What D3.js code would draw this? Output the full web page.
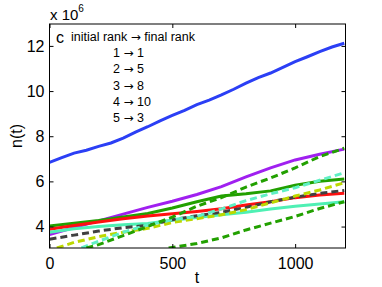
<!DOCTYPE html>
<html><head><meta charset="utf-8">
<script src="https://cdn.jsdelivr.net/npm/d3@7"></script>
<style>
body{margin:0;background:#fff;}
text{font-family:"Liberation Sans",Arial,sans-serif;fill:#000;}
.arr{font-family:"DejaVu Sans",sans-serif;}
</style></head>
<body><svg id="c" width="382" height="287"></svg>
<script>
// data (n in units of 1e6)
const xTicks = [0, 500, 1000];
const yTicks = [4, 6, 8, 10, 12];
const legendHeader = ["initial rank", "final rank"];
const legendFrom = ["1", "2", "3", "4", "5"];
const legendTo = ["1", "5", "8", "10", "3"];

const blue = [[0,6.84],[50,7.05],[100,7.25],[150,7.38],[200,7.55],[250,7.7],[300,7.92],[350,8.18],[400,8.42],[450,8.68],[500,8.92],[550,9.15],[600,9.4],[650,9.6],[700,9.83],[750,10.08],[800,10.35],[850,10.6],[900,10.8],[950,11.05],[1000,11.3],[1050,11.52],[1100,11.75],[1150,11.95],[1200,12.12]];
const purple = [[0,3.65],[100,3.95],[200,4.25],[300,4.55],[400,4.85],[500,5.12],[600,5.42],[700,5.77],[800,6.2],[900,6.6],[1000,6.95],[1100,7.2],[1200,7.43]];
const green = [[0,4.02],[100,4.15],[200,4.27],[300,4.42],[400,4.58],[500,4.82],[600,5.1],[700,5.35],[800,5.45],[900,5.58],[1000,5.83],[1100,6.01],[1200,6.11]];
const red = [[0,3.88],[100,4.05],[200,4.2],[300,4.35],[400,4.47],[500,4.57],[600,4.67],[700,4.79],[800,4.95],[900,5.1],[1000,5.28],[1100,5.4],[1200,5.47]];
const aqua = [[0,3.75],[100,3.9],[200,4.0],[300,4.08],[400,4.14],[500,4.28],[600,4.4],[700,4.52],[800,4.63],[900,4.78],[1000,4.9],[1100,5.0],[1200,5.1]];
const grayDash = [[0,3.44],[100,3.62],[200,3.8],[300,3.95],[400,4.05],[500,4.3],[600,4.48],[700,4.63],[800,4.85],[900,5.1],[1000,5.3],[1100,5.47],[1200,5.6]];
const yellowDash = [[30,3.05],[100,3.3],[200,3.55],[300,3.75],[400,3.92],[500,4.18],[600,4.35],[700,4.52],[800,4.75],[900,5.05],[1000,5.35],[1100,5.62],[1200,5.94]];
const aquaDash = [[130,3.05],[200,3.35],[300,3.75],[400,4.07],[500,4.3],[600,4.45],[700,4.78],[800,5.15],[900,5.45],[1000,5.72],[1100,6.05],[1200,6.38]];
const greenDashUp = [[150,3.05],[200,3.2],[300,3.6],[400,4.0],[500,4.42],[600,4.9],[700,5.28],[800,5.75],[900,6.15],[1000,6.6],[1100,7.1],[1200,7.47]];
const greenDashLow = [[485,3.05],[600,3.25],[700,3.5],[800,3.85],[900,4.15],[1000,4.45],[1100,4.8],[1200,5.1]];

const svg = d3.select("#c");
const L = 49.5, R = 345.5, T = 24, B = 248;
const x = d3.scaleLinear().domain([0, 1205]).range([L, R]);
const y = d3.scaleLinear().domain([3.05, 12.97]).range([B, T]);

svg.append("defs").append("clipPath").attr("id","clip").append("rect")
  .attr("x", L).attr("y", T).attr("width", R-L).attr("height", B-T);

const line = d3.line().x(d => x(d[0])).y(d => y(d[1]));
const g = svg.append("g").attr("clip-path","url(#clip)");
const series = [
  {d: blue, c: "#2b3ff5", dash: null},
  {d: purple, c: "#a020f0", dash: null},
  {d: green, c: "#22a000", dash: null},
  {d: red, c: "#ff1010", dash: null},
  {d: aqua, c: "#4ff0b4", dash: null},
  {d: grayDash, c: "#404040", dash: "7,4"},
  {d: yellowDash, c: "#bcd800", dash: "7,4"},
  {d: aquaDash, c: "#60f0c4", dash: "7,4"},
  {d: greenDashUp, c: "#22a000", dash: "7,4"},
  {d: greenDashLow, c: "#22a000", dash: "7,4"}
];
series.forEach(s => {
  g.append("path").attr("d", line(s.d)).attr("fill","none")
    .attr("stroke", s.c).attr("stroke-width", 3)
    .attr("stroke-dasharray", s.dash);
});

svg.append("rect").attr("x", L).attr("y", T).attr("width", R-L).attr("height", B-T)
  .attr("fill","none").attr("stroke","#000").attr("stroke-width",1);

const fs = "16px";
svg.append("g").attr("transform", `translate(0,${B})`)
  .call(d3.axisBottom(x).tickValues(xTicks).tickFormat(d3.format("d")).tickSizeInner(-4).tickSizeOuter(0).tickPadding(10))
  .call(a => { a.select(".domain").remove(); a.selectAll("text").style("font-size", fs).attr("font-family", null); });
svg.append("g").attr("transform", `translate(0,${T})`)
  .call(d3.axisTop(x).tickValues(xTicks).tickSizeInner(-4).tickSizeOuter(0).tickFormat(""))
  .call(a => a.select(".domain").remove());
svg.append("g").attr("transform", `translate(${L},0)`)
  .call(d3.axisLeft(y).tickValues(yTicks).tickSizeInner(-4).tickSizeOuter(0).tickPadding(5))
  .call(a => { a.select(".domain").remove(); a.selectAll("text").style("font-size", fs).attr("font-family", null); });
svg.append("g").attr("transform", `translate(${R},0)`)
  .call(d3.axisRight(y).tickValues(yTicks).tickSizeInner(-4).tickSizeOuter(0).tickFormat(""))
  .call(a => a.select(".domain").remove());

svg.append("text").attr("x", 197).attr("y", 283).attr("text-anchor","middle").style("font-size", fs).text("t");
svg.append("text").attr("transform","translate(22,136) rotate(-90)").attr("text-anchor","middle").style("font-size", fs).text("n(t)");
const ex = svg.append("text").attr("x", 50).attr("y", 20).style("font-size","15px");
ex.append("tspan").text("x 10");
ex.append("tspan").attr("dy", -8).style("font-size","10px").text("6");

svg.append("text").attr("x", 56).attr("y", 43).style("font-size","16px").text("c");
function arrowText(xp, yp, a, b) {
  const t = svg.append("text").attr("x", xp).attr("y", yp).style("font-size","12.5px");
  t.append("tspan").text(a + " ");
  t.append("tspan").attr("class","arr").style("font-size","12px").text("\u2192");
  t.append("tspan").text(" " + b);
}
arrowText(71, 41, legendHeader[0], legendHeader[1]);
legendFrom.forEach((f, i) => arrowText(113, 57 + i*16.3, f, legendTo[i]));
</script></body></html>
